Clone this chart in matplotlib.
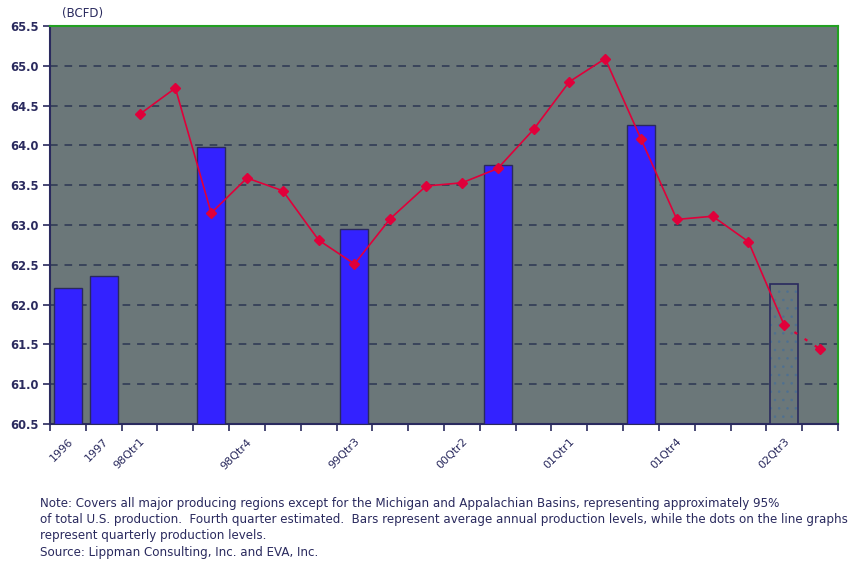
import numpy as np
import matplotlib
matplotlib.use("Agg")
import matplotlib.pyplot as plt

categories = ["1996", "1997",
              "98Qtr1", "98Qtr2", "98Qtr3", "98Qtr4",
              "99Qtr1", "99Qtr2", "99Qtr3", "99Qtr4",
              "00Qtr1", "00Qtr2", "00Qtr3", "00Qtr4",
              "01Qtr1", "01Qtr2", "01Qtr3", "01Qtr4",
              "02Qtr1", "02Qtr2", "02Qtr3", "02Qtr4"]

# annual averages (bars), placed at the listed category
bar_categories = ["1996", "1997", "98Qtr3", "99Qtr3", "00Qtr3", "01Qtr3"]
bar_values = [62.21, 62.36, 63.98, 62.95, 63.75, 64.26]
est_bar_category = "02Qtr3"
est_bar_value = 62.26

# quarterly production (line), 98Qtr1 .. 02Qtr4
line_categories = categories[2:]
line_values = [64.39, 64.72, 63.15, 63.59, 63.43, 62.81, 62.51, 63.08,
               63.49, 63.53, 63.71, 64.20, 64.80, 65.09, 64.08, 63.07,
               63.11, 62.79, 61.74, 61.44]

shown_labels = ["1996", "1997", "98Qtr1", "98Qtr4", "99Qtr3",
                "00Qtr2", "01Qtr1", "01Qtr4", "02Qtr3"]
y_ticks = [60.5, 61.0, 61.5, 62.0, 62.5, 63.0, 63.5, 64.0, 64.5, 65.0, 65.5]

navy = "#2a2a5e"
bg = "#6b7779"
barblue = "#3322ff"
red = "#e0003a"
green = "#22a022"

plt.rcParams['hatch.linewidth'] = 0.6

fig = plt.figure(figsize=(8.52, 5.65), dpi=100)
ax = fig.add_axes([50/852, 1-424/565, 788/852, 398/565])
ax.set_facecolor(bg)

idx = {c: i for i, c in enumerate(categories)}
bx = [idx[c] for c in bar_categories]
ax.bar(bx, np.array(bar_values) - 60.5, bottom=60.5, width=0.78,
       color=barblue, edgecolor=navy, linewidth=1.0, zorder=3)
# estimated bar: dotted fill, then outline
ax.bar([idx[est_bar_category]], [est_bar_value - 60.5], bottom=60.5, width=0.78,
       color=bg, edgecolor="#4f7090", linewidth=0, hatch="..", zorder=3)
ax.bar([idx[est_bar_category]], [est_bar_value - 60.5], bottom=60.5, width=0.78,
       fill=False, edgecolor=navy, linewidth=1.2, zorder=3)

lx = [idx[c] for c in line_categories]
ax.plot(lx[:-1], line_values[:-1], color=red, lw=1.2, marker="D",
        markersize=5.5, zorder=5)
ax.plot(lx[-2:], line_values[-2:], color=red, lw=1.6, ls=(0, (1.5, 4)), zorder=5)
ax.plot(lx[-1:], line_values[-1:], color=red, lw=0, marker="D",
        markersize=5.5, zorder=5)

ax.set_xlim(-0.5, len(categories) - 0.5)
ax.set_ylim(60.5, 65.5)

for y in y_ticks[1:-1]:
    ax.axhline(y, color="#2c3652", lw=1.1, ls=(0, (5, 4.5)), zorder=1)

ax.set_yticks(y_ticks)
ax.set_yticklabels([f"{v:.1f}" for v in y_ticks], fontsize=8.3,
                   fontweight="bold", color=navy)
ax.tick_params(axis="y", direction="out", length=5, width=1.2, color=navy, pad=3)

ax.set_xticks(np.arange(-0.5, len(categories), 1.0), minor=True)
ax.set_xticks([idx[c] for c in shown_labels])
ax.set_xticklabels(shown_labels, rotation=45, ha="right", rotation_mode="anchor",
                   fontsize=8, color=navy)
ax.tick_params(axis="x", which="major", length=0, pad=9)
ax.tick_params(axis="x", which="minor", direction="out", length=5, width=1.2, color=navy)

ax.spines["left"].set_color(navy)
ax.spines["left"].set_linewidth(1.5)
ax.spines["bottom"].set_color(navy)
ax.spines["bottom"].set_linewidth(1.5)
ax.spines["top"].set_color(green)
ax.spines["top"].set_linewidth(1.5)
ax.spines["right"].set_color(green)
ax.spines["right"].set_linewidth(1.5)

fig.text(62/852, 1-13/565, "(BCFD)", fontsize=8.5, color=navy, va="center", ha="left")

notes = [
    "Note: Covers all major producing regions except for the Michigan and Appalachian Basins, representing approximately 95%",
    "of total U.S. production.  Fourth quarter estimated.  Bars represent average annual production levels, while the dots on the line graphs",
    "represent quarterly production levels.",
    "Source: Lippman Consulting, Inc. and EVA, Inc.",
]
for i, t in enumerate(notes):
    fig.text(40/852, 1-(503 + i*16.5)/565, t, fontsize=8.6, color=navy,
             va="center", ha="left", family="DejaVu Sans")

fig.savefig("out.png", dpi=100, facecolor="white")
